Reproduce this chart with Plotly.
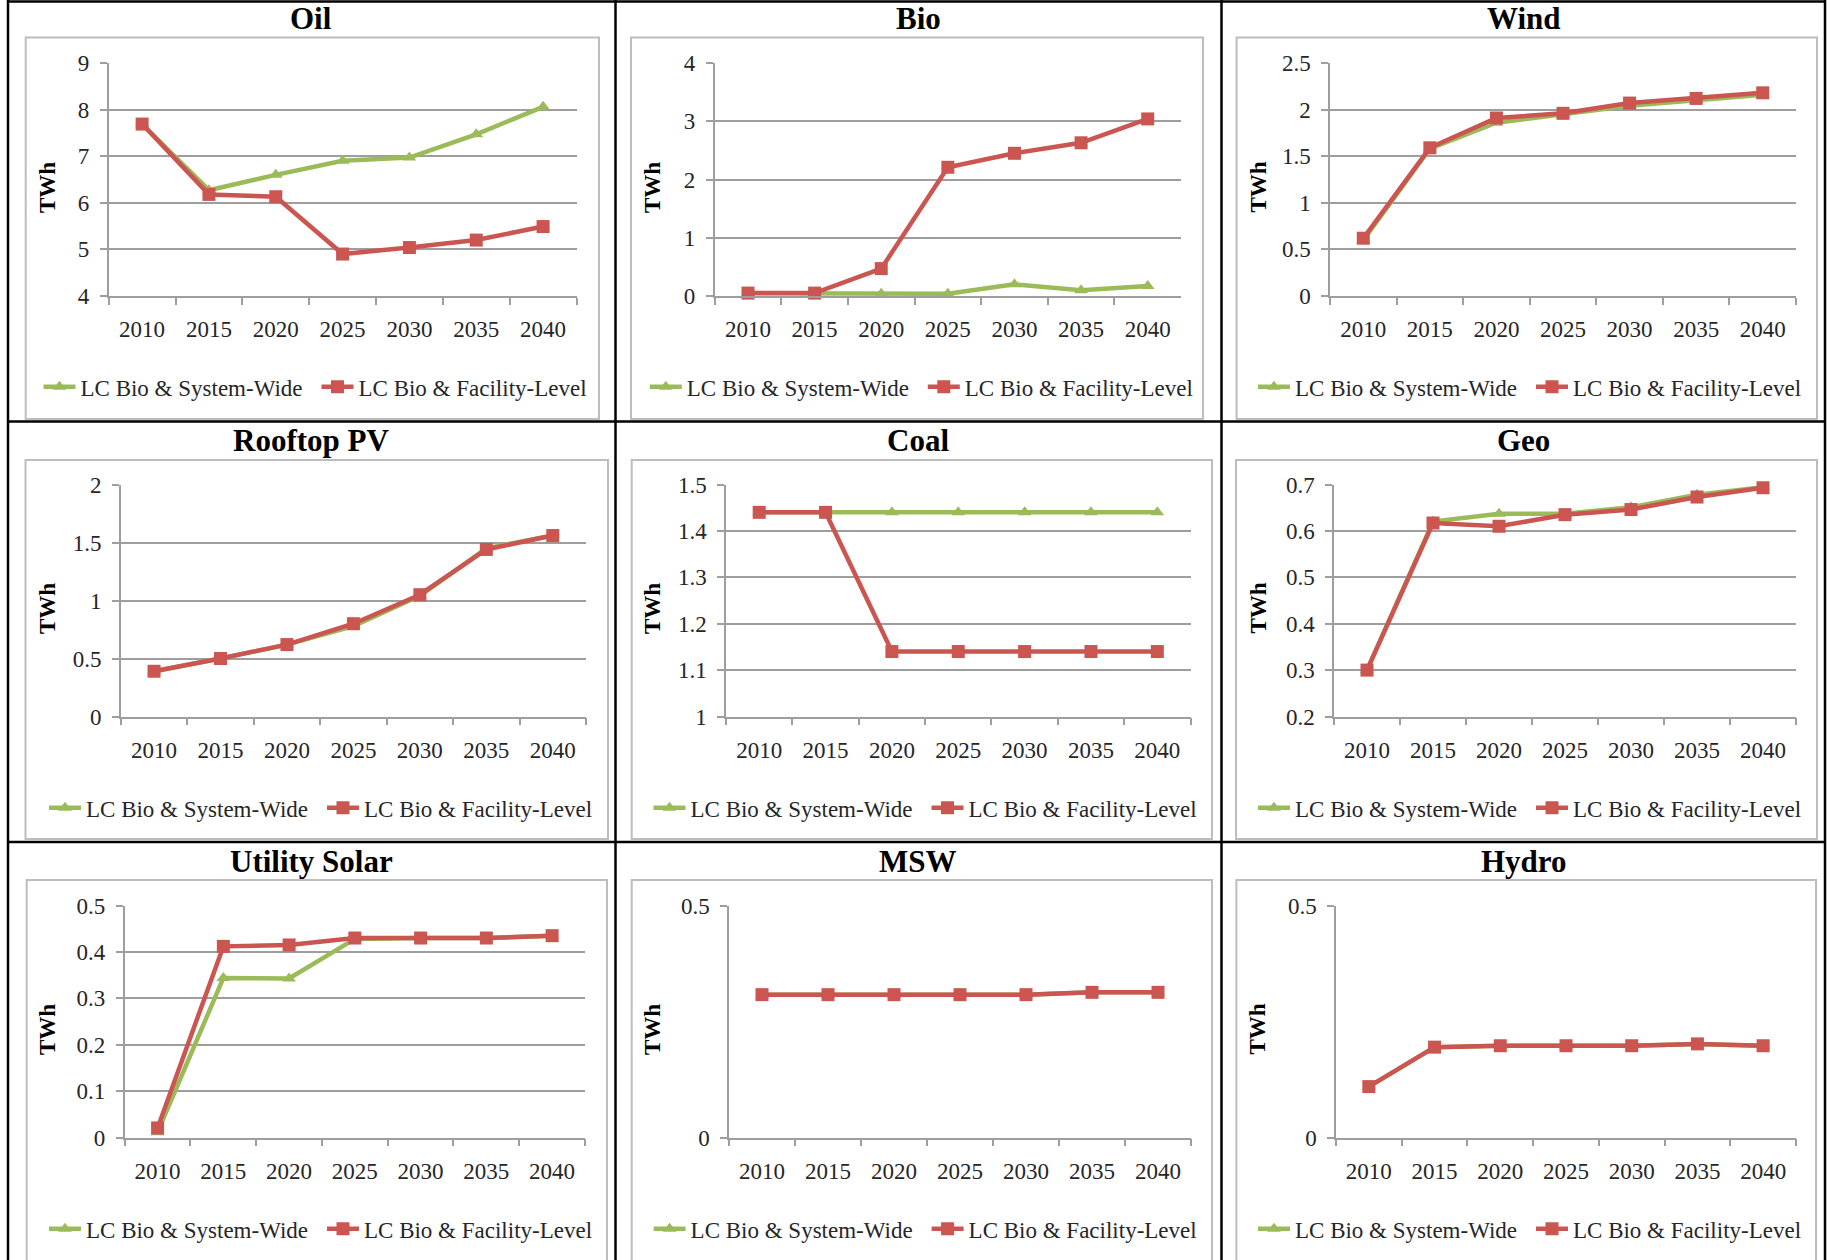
import plotly.graph_objects as go

W, H = 1831, 1260

# ---------------- data ----------------
years = ["2010", "2015", "2020", "2025", "2030", "2035", "2040"]
series_names = ["LC Bio & System-Wide", "LC Bio & Facility-Level"]
chart_titles = ["Oil", "Bio", "Wind", "Rooftop PV", "Coal", "Geo",
                "Utility Solar", "MSW", "Hydro"]

oil_system = [7.69, 6.27, 6.60, 6.90, 6.97, 7.47, 8.06]
oil_facility = [7.69, 6.18, 6.13, 4.90, 5.04, 5.20, 5.49]

bio_system = [0.05, 0.05, 0.04, 0.04, 0.20, 0.10, 0.17]
bio_facility = [0.05, 0.05, 0.47, 2.21, 2.45, 2.63, 3.04]

wind_system = [0.60, 1.58, 1.86, 1.95, 2.04, 2.10, 2.16]
wind_facility = [0.62, 1.59, 1.91, 1.96, 2.07, 2.12, 2.18]

rooftop_system = [0.39, 0.50, 0.62, 0.78, 1.04, 1.45, 1.56]
rooftop_facility = [0.39, 0.50, 0.62, 0.80, 1.05, 1.44, 1.56]

coal_system = [1.44, 1.44, 1.44, 1.44, 1.44, 1.44, 1.44]
coal_facility = [1.44, 1.44, 1.14, 1.14, 1.14, 1.14, 1.14]

geo_system = [0.30, 0.620, 0.637, 0.637, 0.651, 0.678, 0.694]
geo_facility = [0.30, 0.617, 0.610, 0.635, 0.646, 0.673, 0.693]

utility_system = [0.012, 0.344, 0.343, 0.428, 0.430, 0.430, 0.435]
utility_facility = [0.021, 0.412, 0.415, 0.430, 0.430, 0.430, 0.435]

msw_system = [0.308, 0.308, 0.308, 0.308, 0.308, 0.313, 0.313]
msw_facility = [0.308, 0.308, 0.308, 0.308, 0.308, 0.313, 0.313]

hydro_system = [0.110, 0.195, 0.198, 0.198, 0.198, 0.202, 0.198]
hydro_facility = [0.110, 0.195, 0.198, 0.198, 0.198, 0.202, 0.198]

y_ranges = [[4, 9], [0, 4], [0, 2.5], [0, 2], [1, 1.5], [0.2, 0.7],
            [0, 0.5], [0, 0.5], [0, 0.5]]
y_dticks = [1, 1, 0.5, 0.5, 0.1, 0.1, 0.1, 0.5, 0.5]

system_series = [oil_system, bio_system, wind_system, rooftop_system, coal_system,
                 geo_system, utility_system, msw_system, hydro_system]
facility_series = [oil_facility, bio_facility, wind_facility, rooftop_facility,
                   coal_facility, geo_facility, utility_facility, msw_facility,
                   hydro_facility]

# ---------------- geometry (pixels) ----------------
plot_px = [  # x0, x1, ytop, ybottom
    (108.7, 576.5, 63, 296), (714.7, 1181, 63, 296), (1330, 1796, 63, 296),
    (120.8, 586, 484.5, 716.5), (726, 1190.5, 484.5, 716.5), (1334, 1796, 484.5, 716.5),
    (124.7, 585, 905.5, 1137.7), (729, 1191, 905.5, 1137.7), (1336, 1796, 905.5, 1137.7),
]
box_px = [
    (25.7, 599, 37.5, 419), (631, 1203, 37.5, 419), (1236.6, 1817, 37.5, 419),
    (25.5, 608, 460, 839), (631.7, 1212, 460, 839), (1236, 1817, 460, 839),
    (26.7, 607, 880, 1275), (631.7, 1212, 880, 1275), (1236.4, 1816, 880, 1275),
]
legend_left_px = [43.5, 649.8, 1258, 49, 653.5, 1258, 49, 653.6, 1258]
row_legend_y = [386.7, 807.7, 1228.7]
row_title_y = [19, 440, 861.5]
col_title_x = [311, 918, 1523.5]
col_twh_x = [47.5, 652.5, 1258]

GREEN = "#9BBB59"
RED = "#CB5551"
GRID = "#9E9E9E"
FONT = "Liberation Serif, Times New Roman, serif"
TXT = "#262626"


def px(x):
    return x / W


def py(y):
    return 1 - y / H


fig = go.Figure()
layout = dict(
    width=W, height=H, margin=dict(l=0, r=0, t=0, b=0, pad=0, autoexpand=False),
    paper_bgcolor="white", plot_bgcolor="white",
    font=dict(family=FONT, size=23, color=TXT),
    showlegend=True, shapes=[], annotations=[],
)

for i in range(9):
    r, c = divmod(i, 3)
    sfx = "" if i == 0 else str(i + 1)
    xa, ya = "x" + sfx, "y" + sfx
    leg = "legend" + sfx
    fig.add_trace(go.Scatter(
        x=years, y=system_series[i], name=series_names[0], mode="lines+markers",
        line=dict(color=GREEN, width=4.5),
        marker=dict(symbol="triangle-up", size=12, color=GREEN),
        xaxis=xa, yaxis=ya, legend=leg, cliponaxis=False))
    fig.add_trace(go.Scatter(
        x=years, y=facility_series[i], name=series_names[1], mode="lines+markers",
        line=dict(color=RED, width=4.5),
        marker=dict(symbol="square", size=13, color=RED),
        xaxis=xa, yaxis=ya, legend=leg, cliponaxis=False))

    x0, x1, yt, yb = plot_px[i]
    layout["xaxis" + sfx] = dict(
        domain=[px(x0), px(x1)], anchor=ya, type="category",
        range=[-0.5, 6.5], tickson="boundaries", ticks="outside", ticklen=7,
        tickwidth=1.5, tickcolor=GRID, showline=True, linecolor=GRID, linewidth=1.5,
        showgrid=False, zeroline=False, tickfont=dict(size=23, color=TXT),
        ticklabelstandoff=12, fixedrange=True, automargin=False)
    layout["yaxis" + sfx] = dict(
        domain=[py(yb), py(yt)], anchor=xa, range=y_ranges[i],
        tick0=y_ranges[i][0], dtick=y_dticks[i], ticks="outside", ticklen=7,
        tickwidth=1.5, tickcolor=GRID, showline=True, linecolor=GRID, linewidth=1.5,
        showgrid=True, gridcolor=GRID, gridwidth=1.5, zeroline=False,
        tickfont=dict(size=23, color=TXT), ticklabelstandoff=6, fixedrange=True,
        automargin=False)

    layout[leg] = dict(
        orientation="h", x=px(legend_left_px[i] - 5), xanchor="left",
        y=py(row_legend_y[r]), yanchor="middle", bgcolor="rgba(0,0,0,0)",
        borderwidth=0, font=dict(size=23, color=TXT, family=FONT),
        entrywidth=231, entrywidthmode="pixels", itemwidth=32,
        itemclick=False, itemdoubleclick=False)

    bx0, bx1, byt, byb = box_px[i]
    layout["shapes"].append(dict(
        type="rect", xref="paper", yref="paper", x0=px(bx0), x1=px(bx1),
        y0=py(byb), y1=py(byt), line=dict(color="#BDBDBD", width=2),
        fillcolor="rgba(0,0,0,0)", layer="below"))

    layout["annotations"].append(dict(
        text="<b>" + chart_titles[i] + "</b>", x=px(col_title_x[c]),
        y=py(row_title_y[r]), xref="paper", yref="paper", showarrow=False,
        xanchor="center", yanchor="middle",
        font=dict(size=31, color="black", family=FONT)))
    layout["annotations"].append(dict(
        text="<b>TWh</b>", x=px(col_twh_x[c]), y=py((yt + yb) / 2 + 8),
        xref="paper", yref="paper", showarrow=False, textangle=-90,
        xanchor="center", yanchor="middle",
        font=dict(size=23, color="black", family=FONT)))

# table borders
table_lines = [
    (8, 1.5, 1825, 1.5), (8, 0, 8, H), (1825, 0, 1825, H),
    (615.5, 0, 615.5, H), (1221.5, 0, 1221.5, H),
    (8, 421.5, 1825, 421.5), (8, 842, 1825, 842),
]
for (a, b, cc, d) in table_lines:
    layout["shapes"].append(dict(
        type="line", xref="paper", yref="paper", x0=px(a), y0=py(b),
        x1=px(cc), y1=py(d), line=dict(color="black", width=2.5), layer="above"))

fig.update_layout(**layout)
fig.write_html(
    "out.html",
    config={"displayModeBar": False},
    post_script="document.body.style.margin='0px';document.body.style.padding='0px';"
                "document.body.style.overflow='hidden';",
)
